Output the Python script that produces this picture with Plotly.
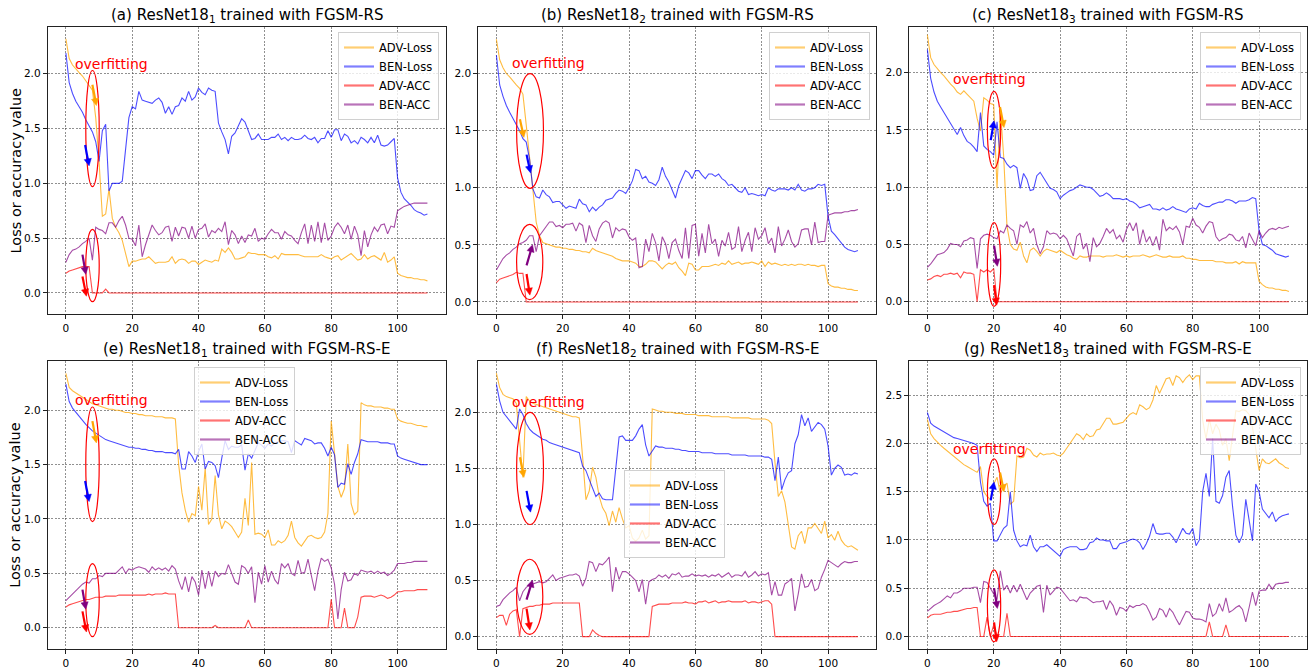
import math
import plotly.graph_objects as go

epochs = list(range(110))
series_names = ["ADV-Loss", "BEN-Loss", "ADV-ACC", "BEN-ACC"]

# ---------------- (a) ResNet18_1, FGSM-RS ----------------
A_adv_loss = [2.32, 2.14, 2.08, 2.04, 2.01, 1.98, 1.94, 1.90, 1.85, 1.60,
              1.20, 0.70, 0.72, 0.95, 0.68, 0.60, 0.55, 0.48, 0.35, 0.24,
              0.29, 0.29, 0.30, 0.31, 0.31, 0.33, 0.30, 0.27, 0.28, 0.28,
              0.28, 0.29, 0.33, 0.27, 0.30, 0.31, 0.30, 0.27, 0.29, 0.29,
              0.26, 0.28, 0.30, 0.29, 0.28, 0.30, 0.29, 0.40, 0.37, 0.41,
              0.37, 0.31, 0.31, 0.32, 0.33, 0.37, 0.36, 0.36, 0.35, 0.35,
              0.35, 0.33, 0.32, 0.34, 0.31, 0.36, 0.35, 0.35, 0.35, 0.35,
              0.35, 0.34, 0.33, 0.33, 0.33, 0.33, 0.33, 0.35, 0.33, 0.32,
              0.31, 0.33, 0.34, 0.30, 0.32, 0.34, 0.36, 0.33, 0.30, 0.31,
              0.35, 0.31, 0.33, 0.34, 0.32, 0.30, 0.37, 0.28, 0.30, 0.33,
              0.18, 0.16, 0.15, 0.14, 0.14, 0.13, 0.13, 0.12, 0.12, 0.11]
A_ben_loss = [2.19, 1.92, 1.82, 1.75, 1.70, 1.65, 1.58, 1.53, 1.47, 1.38,
              1.20, 1.48, 1.54, 0.93, 1.00, 1.00, 1.00, 1.02, 1.30, 1.60,
              1.70, 1.68, 1.84, 1.76, 1.75, 1.74, 1.73, 1.76, 1.78, 1.74,
              1.64, 1.70, 1.63, 1.70, 1.71, 1.78, 1.75, 1.84, 1.76, 1.79,
              1.87, 1.83, 1.81, 1.87, 1.85, 1.84, 1.55, 1.47, 1.40, 1.27,
              1.43, 1.46, 1.52, 1.59, 1.56, 1.48, 1.40, 1.41, 1.45, 1.40,
              1.40, 1.40, 1.42, 1.42, 1.45, 1.40, 1.42, 1.39, 1.42, 1.40,
              1.40, 1.41, 1.44, 1.41, 1.40, 1.42, 1.37, 1.41, 1.41, 1.48,
              1.42, 1.49, 1.49, 1.39, 1.45, 1.43, 1.37, 1.39, 1.36, 1.42,
              1.40, 1.37, 1.42, 1.37, 1.44, 1.35, 1.34, 1.35, 1.38, 1.41,
              1.05, 0.92, 0.86, 0.83, 0.80, 0.76, 0.74, 0.73, 0.71, 0.72]
A_adv_acc = [0.18, 0.20, 0.21, 0.22, 0.23, 0.24, 0.24, 0.24, 0.00, 0.00,
             0.00, 0.00, 0.035, 0.00, 0.00, 0.00, 0.00, 0.00, 0.00, 0.00,
             0.00, 0.00, 0.00, 0.00, 0.00, 0.00, 0.00, 0.00, 0.00, 0.00,
             0.00, 0.00, 0.00, 0.00, 0.00, 0.00, 0.00, 0.00, 0.00, 0.00,
             0.00, 0.00, 0.00, 0.00, 0.00, 0.00, 0.00, 0.00, 0.00, 0.00,
             0.00, 0.00, 0.00, 0.00, 0.00, 0.00, 0.00, 0.00, 0.00, 0.00,
             0.00, 0.00, 0.00, 0.00, 0.00, 0.00, 0.00, 0.00, 0.00, 0.00,
             0.00, 0.00, 0.00, 0.00, 0.00, 0.00, 0.00, 0.00, 0.00, 0.00,
             0.00, 0.00, 0.00, 0.00, 0.00, 0.00, 0.00, 0.00, 0.00, 0.00,
             0.00, 0.00, 0.00, 0.00, 0.00, 0.00, 0.00, 0.00, 0.00, 0.00,
             0.00, 0.00, 0.00, 0.00, 0.00, 0.00, 0.00, 0.00, 0.00, 0.00]
A_ben_acc = [0.28, 0.35, 0.39, 0.40, 0.42, 0.45, 0.47, 0.50, 0.30, 0.60,
             0.58, 0.57, 0.54, 0.64, 0.64, 0.60, 0.66, 0.70, 0.62, 0.50,
             0.49, 0.43, 0.62, 0.33, 0.44, 0.53, 0.62, 0.57, 0.53, 0.55,
             0.60, 0.61, 0.47, 0.60, 0.52, 0.60, 0.59, 0.50, 0.61, 0.50,
             0.58, 0.59, 0.63, 0.51, 0.57, 0.55, 0.59, 0.56, 0.65, 0.44,
             0.57, 0.53, 0.45, 0.52, 0.46, 0.53, 0.52, 0.59, 0.47, 0.50,
             0.49, 0.54, 0.58, 0.55, 0.55, 0.49, 0.56, 0.53, 0.52, 0.48,
             0.45, 0.55, 0.63, 0.45, 0.62, 0.47, 0.65, 0.46, 0.64, 0.48,
             0.52, 0.60, 0.64, 0.60, 0.54, 0.62, 0.49, 0.61, 0.53, 0.34,
             0.57, 0.42, 0.53, 0.60, 0.56, 0.62, 0.63, 0.54, 0.61, 0.60,
             0.75, 0.77, 0.79, 0.80, 0.81, 0.82, 0.82, 0.82, 0.82, 0.82]

# ---------------- (b) ResNet18_2, FGSM-RS ----------------
B_adv_loss = [2.30, 2.12, 2.05, 2.00, 1.97, 1.93, 1.90, 1.87, 1.82, 1.55,
              1.25, 0.95, 0.70, 0.58, 0.52, 0.51, 0.50, 0.49, 0.48, 0.48,
              0.47, 0.47, 0.46, 0.46, 0.45, 0.45, 0.44, 0.44, 0.43, 0.47,
              0.45, 0.44, 0.43, 0.42, 0.41, 0.40, 0.38, 0.37, 0.36, 0.36,
              0.36, 0.35, 0.34, 0.31, 0.31, 0.33, 0.36, 0.36, 0.35, 0.32,
              0.29, 0.32, 0.34, 0.33, 0.35, 0.30, 0.27, 0.23, 0.34, 0.33,
              0.28, 0.28, 0.31, 0.31, 0.31, 0.32, 0.33, 0.32, 0.34, 0.33,
              0.36, 0.33, 0.34, 0.35, 0.33, 0.34, 0.34, 0.35, 0.34, 0.33,
              0.36, 0.31, 0.35, 0.33, 0.34, 0.33, 0.32, 0.33, 0.32, 0.33,
              0.32, 0.33, 0.33, 0.32, 0.33, 0.32, 0.32, 0.31, 0.32, 0.32,
              0.16, 0.14, 0.13, 0.13, 0.12, 0.12, 0.11, 0.11, 0.10, 0.10]
B_ben_loss = [2.16, 1.90, 1.80, 1.72, 1.66, 1.61, 1.55, 1.50, 1.43, 1.40,
              1.25, 0.99, 0.92, 0.91, 0.98, 0.94, 0.92, 0.87, 0.88, 0.88,
              0.85, 0.82, 0.84, 0.83, 0.82, 0.90, 0.86, 0.85, 0.79, 0.83,
              0.80, 0.83, 0.85, 0.89, 0.90, 0.91, 0.95, 0.98, 0.97, 0.95,
              1.00, 1.06, 1.16, 1.15, 1.08, 1.10, 1.05, 1.04, 1.02, 1.07,
              1.18, 1.10, 1.05, 0.98, 0.91, 1.02, 1.08, 1.15, 1.13, 1.08,
              1.15, 1.15, 1.11, 1.08, 1.12, 1.12, 1.10, 1.12, 1.08, 1.06,
              1.02, 1.03, 1.00, 0.97, 0.96, 1.00, 0.94, 0.95, 0.94, 0.93,
              0.94, 0.93, 1.00, 0.98, 0.97, 0.99, 0.99, 0.99, 0.98, 1.00,
              0.98, 1.03, 0.98, 0.97, 0.99, 0.99, 1.00, 1.03, 1.02, 1.03,
              0.75, 0.62, 0.59, 0.55, 0.51, 0.48, 0.46, 0.45, 0.44, 0.45]
B_adv_acc = [0.17, 0.20, 0.21, 0.22, 0.23, 0.24, 0.26, 0.25, 0.25, 0.00,
             0.00, 0.00, 0.00, 0.00, 0.00, 0.00, 0.00, 0.00, 0.00, 0.00,
             0.00, 0.00, 0.00, 0.00, 0.00, 0.00, 0.00, 0.00, 0.00, 0.00,
             0.00, 0.00, 0.00, 0.00, 0.00, 0.00, 0.00, 0.00, 0.00, 0.00,
             0.00, 0.00, 0.00, 0.00, 0.00, 0.00, 0.00, 0.00, 0.00, 0.00,
             0.00, 0.00, 0.00, 0.00, 0.00, 0.00, 0.00, 0.00, 0.00, 0.00,
             0.00, 0.00, 0.00, 0.00, 0.00, 0.00, 0.00, 0.00, 0.00, 0.00,
             0.00, 0.00, 0.00, 0.00, 0.00, 0.00, 0.00, 0.00, 0.00, 0.00,
             0.00, 0.00, 0.00, 0.00, 0.00, 0.00, 0.00, 0.00, 0.00, 0.00,
             0.00, 0.00, 0.00, 0.00, 0.00, 0.00, 0.00, 0.00, 0.00, 0.00,
             0.00, 0.00, 0.00, 0.00, 0.00, 0.00, 0.00, 0.00, 0.00, 0.00]
B_ben_acc = [0.28, 0.33, 0.38, 0.41, 0.43, 0.46, 0.48, 0.51, 0.52, 0.54,
             0.58, 0.58, 0.44, 0.58, 0.62, 0.65, 0.70, 0.70, 0.66, 0.67,
             0.65, 0.68, 0.68, 0.69, 0.62, 0.69, 0.67, 0.52, 0.67, 0.58,
             0.53, 0.64, 0.69, 0.71, 0.69, 0.56, 0.65, 0.62, 0.64, 0.63,
             0.57, 0.54, 0.56, 0.30, 0.31, 0.55, 0.44, 0.60, 0.52, 0.36,
             0.57, 0.51, 0.38, 0.52, 0.55, 0.45, 0.38, 0.65, 0.38, 0.67,
             0.68, 0.40, 0.60, 0.43, 0.68, 0.51, 0.55, 0.40, 0.54, 0.49,
             0.61, 0.46, 0.48, 0.66, 0.44, 0.54, 0.61, 0.44, 0.65, 0.55,
             0.58, 0.65, 0.51, 0.56, 0.43, 0.66, 0.49, 0.55, 0.63, 0.53,
             0.48, 0.51, 0.63, 0.64, 0.64, 0.50, 0.70, 0.52, 0.53, 0.53,
             0.76, 0.77, 0.78, 0.78, 0.78, 0.79, 0.79, 0.80, 0.80, 0.81]

# ---------------- (c) ResNet18_3, FGSM-RS ----------------
C_adv_loss = [2.33, 2.13, 2.07, 2.03, 2.00, 1.97, 1.93, 1.90, 1.87, 1.83,
              1.81, 1.84, 1.81, 1.78, 1.75, 1.60, 1.49, 1.78, 1.76, 1.73,
              1.72, 0.99, 1.68, 1.27, 0.66, 0.50, 0.46, 0.45, 0.52, 0.40,
              0.34, 0.45, 0.47, 0.44, 0.40, 0.44, 0.46, 0.45, 0.44, 0.43,
              0.45, 0.43, 0.41, 0.40, 0.38, 0.37, 0.40, 0.39, 0.39, 0.40,
              0.40, 0.40, 0.40, 0.39, 0.40, 0.40, 0.40, 0.41, 0.40, 0.39,
              0.40, 0.39, 0.40, 0.40, 0.40, 0.41, 0.40, 0.39, 0.40, 0.41,
              0.40, 0.39, 0.39, 0.40, 0.39, 0.39, 0.39, 0.40, 0.38, 0.38,
              0.37, 0.37, 0.36, 0.36, 0.36, 0.36, 0.36, 0.35, 0.35, 0.35,
              0.34, 0.34, 0.34, 0.35, 0.33, 0.35, 0.34, 0.34, 0.34, 0.34,
              0.18, 0.15, 0.13, 0.12, 0.12, 0.11, 0.11, 0.10, 0.10, 0.09]
C_ben_loss = [2.20, 1.95, 1.83, 1.75, 1.70, 1.65, 1.60, 1.55, 1.50, 1.46,
              1.52, 1.45, 1.40, 1.38, 1.35, 1.31, 1.65, 1.36, 1.33, 1.31,
              1.28, 1.57, 1.26, 1.25, 1.20, 1.17, 1.19, 1.17, 0.99, 1.12,
              1.07, 0.97, 0.98, 1.10, 1.13, 1.08, 1.03, 0.99, 0.98, 0.96,
              0.90, 0.93, 0.95, 0.97, 0.98, 1.00, 1.02, 1.01, 1.00, 1.00,
              0.98, 0.95, 0.92, 0.93, 0.95, 0.93, 0.90, 0.90, 0.90, 0.89,
              0.90, 0.88, 0.87, 0.85, 0.82, 0.83, 0.84, 0.85, 0.81, 0.81,
              0.80, 0.82, 0.80, 0.81, 0.83, 0.81, 0.80, 0.79, 0.78, 0.81,
              0.82, 0.81, 0.86, 0.84, 0.83, 0.83, 0.85, 0.86, 0.87, 0.87,
              0.89, 0.89, 0.88, 0.86, 0.88, 0.88, 0.88, 0.89, 0.91, 0.90,
              0.62, 0.50, 0.49, 0.47, 0.45, 0.42, 0.41, 0.40, 0.39, 0.40]
C_adv_acc = [0.19, 0.20, 0.22, 0.23, 0.22, 0.24, 0.24, 0.25, 0.24, 0.25,
             0.21, 0.26, 0.25, 0.25, 0.24, 0.00, 0.28, 0.26, 0.28, 0.26,
             0.29, 0.00, 0.00, 0.00, 0.00, 0.00, 0.00, 0.00, 0.00, 0.00,
             0.00, 0.00, 0.00, 0.00, 0.00, 0.00, 0.00, 0.00, 0.00, 0.00,
             0.00, 0.00, 0.00, 0.00, 0.00, 0.00, 0.00, 0.00, 0.00, 0.00,
             0.00, 0.00, 0.00, 0.00, 0.00, 0.00, 0.00, 0.00, 0.00, 0.00,
             0.00, 0.00, 0.00, 0.00, 0.00, 0.00, 0.00, 0.00, 0.00, 0.00,
             0.00, 0.00, 0.00, 0.00, 0.00, 0.00, 0.00, 0.00, 0.00, 0.00,
             0.00, 0.00, 0.00, 0.00, 0.00, 0.00, 0.00, 0.00, 0.00, 0.00,
             0.00, 0.00, 0.00, 0.00, 0.00, 0.00, 0.00, 0.00, 0.00, 0.00,
             0.00, 0.00, 0.00, 0.00, 0.00, 0.00, 0.00, 0.00, 0.00, 0.00]
C_ben_acc = [0.30, 0.33, 0.37, 0.41, 0.42, 0.43, 0.46, 0.51, 0.50, 0.50,
             0.48, 0.53, 0.54, 0.56, 0.55, 0.29, 0.55, 0.58, 0.59, 0.58,
             0.56, 0.55, 0.62, 0.60, 0.67, 0.64, 0.62, 0.50, 0.67, 0.65,
             0.70, 0.60, 0.64, 0.50, 0.42, 0.48, 0.62, 0.59, 0.60, 0.59,
             0.55, 0.58, 0.55, 0.47, 0.40, 0.57, 0.60, 0.46, 0.51, 0.35,
             0.56, 0.48, 0.51, 0.57, 0.64, 0.60, 0.63, 0.55, 0.58, 0.52,
             0.63, 0.69, 0.62, 0.69, 0.50, 0.63, 0.52, 0.57, 0.49, 0.57,
             0.45, 0.72, 0.62, 0.65, 0.63, 0.66, 0.61, 0.50, 0.66, 0.65,
             0.73, 0.67, 0.65, 0.60, 0.66, 0.70, 0.69, 0.57, 0.53, 0.55,
             0.56, 0.59, 0.58, 0.54, 0.53, 0.57, 0.47, 0.60, 0.55, 0.49,
             0.62, 0.56, 0.60, 0.63, 0.64, 0.63, 0.65, 0.64, 0.65, 0.66]

# ---------------- (e) ResNet18_1, FGSM-RS-E ----------------
E_adv_loss = [2.34, 2.21, 2.18, 2.16, 2.14, 2.12, 2.10, 2.08, 2.06, 2.05,
              2.04, 2.03, 2.02, 2.01, 2.01, 2.00, 2.00, 1.99, 1.98, 1.98,
              1.97, 1.97, 1.96, 1.96, 1.95, 1.95, 1.95, 1.94, 1.94, 1.94,
              1.93, 1.93, 1.93, 1.92, 1.50, 1.24, 1.08, 0.97, 1.05, 1.03,
              1.30, 1.08, 1.47, 0.95, 1.00, 1.40, 1.04, 0.91, 0.98, 0.96,
              0.93, 0.88, 0.83, 0.88, 1.19, 0.94, 1.52, 0.86, 0.87, 0.86,
              0.83, 0.90, 0.76, 0.76, 0.80, 0.78, 0.80, 0.85, 0.98, 0.83,
              0.78, 0.75, 0.80, 0.84, 0.85, 0.83, 0.82, 0.83, 0.88, 1.05,
              1.90, 1.60, 1.30, 1.20, 1.28, 1.69, 1.14, 1.04, 1.07, 2.07,
              2.05, 2.04, 2.04, 2.03, 2.03, 2.03, 2.02, 2.02, 2.01, 2.01,
              1.92, 1.90, 1.89, 1.88, 1.88, 1.87, 1.86, 1.86, 1.85, 1.85]
E_ben_loss = [2.24, 2.08, 2.02, 1.98, 1.94, 1.90, 1.87, 1.84, 1.81, 1.79,
              1.77, 1.75, 1.73, 1.72, 1.71, 1.70, 1.69, 1.68, 1.67, 1.66,
              1.66, 1.65, 1.65, 1.64, 1.64, 1.63, 1.63, 1.62, 1.62, 1.62,
              1.61, 1.61, 1.61, 1.60, 1.64, 1.46, 1.46, 1.62, 1.58, 1.52,
              1.62, 1.69, 1.46, 1.53, 1.52, 1.49, 1.38, 1.56, 1.72, 1.64,
              1.67, 1.66, 1.66, 1.68, 1.45, 1.60, 1.56, 1.63, 1.70, 1.68,
              1.65, 1.69, 1.67, 1.70, 1.71, 1.72, 1.72, 1.71, 1.61, 1.72,
              1.70, 1.68, 1.74, 1.73, 1.72, 1.69, 1.70, 1.70, 1.65, 1.58,
              1.66, 1.59, 1.29, 1.33, 1.32, 1.51, 1.41, 1.52, 1.60, 1.73,
              1.72, 1.71, 1.71, 1.71, 1.71, 1.70, 1.70, 1.70, 1.69, 1.69,
              1.58, 1.56, 1.55, 1.54, 1.53, 1.52, 1.51, 1.50, 1.50, 1.50]
E_adv_acc = [0.19, 0.21, 0.22, 0.23, 0.24, 0.25, 0.26, 0.26, 0.27, 0.28,
             0.28, 0.28, 0.29, 0.29, 0.29, 0.29, 0.30, 0.30, 0.30, 0.30,
             0.30, 0.30, 0.30, 0.30, 0.30, 0.31, 0.30, 0.31, 0.31, 0.31,
             0.32, 0.31, 0.31, 0.31, 0.00, 0.00, 0.00, 0.00, 0.00, 0.00,
             0.00, 0.00, 0.00, 0.00, 0.00, 0.02, 0.00, 0.00, 0.00, 0.00,
             0.00, 0.00, 0.00, 0.00, 0.00, 0.07, 0.00, 0.00, 0.00, 0.00,
             0.00, 0.00, 0.00, 0.00, 0.00, 0.00, 0.00, 0.00, 0.00, 0.00,
             0.00, 0.00, 0.00, 0.00, 0.00, 0.00, 0.00, 0.00, 0.00, 0.00,
             0.26, 0.00, 0.00, 0.00, 0.18, 0.00, 0.00, 0.00, 0.10, 0.28,
             0.29, 0.29, 0.29, 0.28, 0.29, 0.30, 0.29, 0.27, 0.28, 0.30,
             0.33, 0.33, 0.34, 0.34, 0.34, 0.34, 0.35, 0.35, 0.35, 0.35]
E_ben_acc = [0.25, 0.28, 0.31, 0.34, 0.37, 0.40, 0.42, 0.41, 0.45, 0.45,
             0.48, 0.47, 0.50, 0.50, 0.50, 0.50, 0.53, 0.56, 0.50, 0.54,
             0.53, 0.55, 0.56, 0.55, 0.54, 0.51, 0.56, 0.53, 0.55, 0.53,
             0.55, 0.52, 0.57, 0.54, 0.43, 0.35, 0.47, 0.33, 0.47, 0.42,
             0.30, 0.53, 0.36, 0.52, 0.38, 0.52, 0.47, 0.50, 0.49, 0.58,
             0.50, 0.42, 0.40, 0.57, 0.55, 0.50, 0.56, 0.23, 0.51, 0.40,
             0.57, 0.42, 0.52, 0.44, 0.40, 0.59, 0.55, 0.59, 0.50, 0.48,
             0.62, 0.50, 0.51, 0.63, 0.48, 0.34, 0.52, 0.64, 0.61, 0.63,
             0.55, 0.40, 0.08, 0.35, 0.51, 0.43, 0.44, 0.50, 0.48, 0.53,
             0.52, 0.51, 0.52, 0.50, 0.52, 0.50, 0.51, 0.48, 0.50, 0.53,
             0.59, 0.59, 0.59, 0.60, 0.60, 0.61, 0.61, 0.61, 0.61, 0.61]

# ---------------- (f) ResNet18_2, FGSM-RS-E ----------------
F_adv_loss = [2.35, 2.22, 2.16, 2.14, 2.13, 2.12, 2.08, 1.75, 1.42, 2.14,
              2.10, 2.08, 2.07, 2.06, 2.05, 2.04, 2.03, 2.02, 2.01, 2.00,
              1.99, 1.98, 1.97, 1.96, 1.96, 1.95, 1.60, 1.22, 1.30, 1.51,
              1.42, 1.25, 1.15, 1.10, 0.99, 1.12, 1.02, 1.15, 1.05, 0.97,
              0.99, 0.88, 0.85, 0.88, 0.95, 0.87, 0.90, 2.03, 2.02, 2.01,
              2.01, 2.00, 2.00, 2.00, 1.99, 1.99, 1.99, 1.98, 1.98, 1.98,
              1.98, 1.97, 1.97, 1.97, 1.97, 1.96, 1.96, 1.96, 1.96, 1.96,
              1.96, 1.95, 1.95, 1.95, 1.95, 1.95, 1.95, 1.94, 1.94, 1.94,
              1.94, 1.94, 1.93, 1.90, 1.55, 1.25, 1.30, 1.20, 1.00, 0.80,
              0.78, 0.90, 0.94, 0.83, 0.97, 0.97, 1.01, 0.97, 0.92, 1.03,
              0.88, 0.91, 0.86, 0.94, 0.86, 0.82, 0.80, 0.81, 0.79, 0.77]
F_ben_loss = [2.25, 2.10, 2.00, 1.96, 1.93, 1.89, 1.85, 2.03, 1.98, 1.90,
              1.85, 1.82, 1.80, 1.78, 1.76, 1.75, 1.73, 1.72, 1.71, 1.70,
              1.69, 1.68, 1.67, 1.66, 1.65, 1.64, 1.52, 1.48, 1.40, 1.32,
              1.25, 1.28, 1.23, 1.22, 1.22, 1.22, 1.50, 1.78, 1.79, 1.75,
              1.75, 1.75, 1.79, 1.85, 1.89, 1.71, 1.61, 1.66, 1.70, 1.69,
              1.69, 1.68, 1.68, 1.68, 1.67, 1.67, 1.66, 1.66, 1.65, 1.65,
              1.65, 1.65, 1.64, 1.64, 1.64, 1.64, 1.63, 1.63, 1.63, 1.63,
              1.63, 1.62, 1.62, 1.62, 1.62, 1.62, 1.61, 1.61, 1.61, 1.61,
              1.61, 1.60, 1.60, 1.58, 1.39, 1.60, 1.31, 1.40, 1.46, 1.48,
              1.72, 1.80, 1.98, 1.88, 1.95, 1.83, 1.87, 1.91, 1.89, 1.85,
              1.70, 1.44, 1.50, 1.53, 1.51, 1.44, 1.45, 1.44, 1.46, 1.45]
F_adv_acc = [0.17, 0.19, 0.19, 0.10, 0.20, 0.23, 0.24, 0.00, 0.25, 0.26,
             0.27, 0.27, 0.28, 0.28, 0.29, 0.29, 0.29, 0.30, 0.30, 0.30,
             0.30, 0.30, 0.30, 0.30, 0.30, 0.30, 0.00, 0.00, 0.00, 0.06,
             0.03, 0.01, 0.00, 0.00, 0.00, 0.00, 0.00, 0.00, 0.00, 0.00,
             0.00, 0.00, 0.00, 0.00, 0.00, 0.00, 0.00, 0.27, 0.28, 0.29,
             0.29, 0.29, 0.29, 0.30, 0.30, 0.30, 0.30, 0.31, 0.30, 0.30,
             0.29, 0.31, 0.31, 0.32, 0.30, 0.31, 0.32, 0.30, 0.31, 0.31,
             0.32, 0.31, 0.31, 0.31, 0.31, 0.32, 0.30, 0.31, 0.31, 0.30,
             0.31, 0.32, 0.32, 0.29, 0.00, 0.00, 0.00, 0.00, 0.00, 0.00,
             0.00, 0.00, 0.00, 0.00, 0.00, 0.00, 0.00, 0.00, 0.00, 0.00,
             0.00, 0.00, 0.00, 0.00, 0.00, 0.00, 0.00, 0.00, 0.00, 0.00]
F_ben_acc = [0.27, 0.28, 0.33, 0.36, 0.39, 0.41, 0.44, 0.32, 0.40, 0.44,
             0.46, 0.47, 0.48, 0.49, 0.48, 0.49, 0.52, 0.55, 0.50, 0.52,
             0.53, 0.54, 0.55, 0.55, 0.56, 0.54, 0.45, 0.52, 0.67, 0.66,
             0.58, 0.65, 0.64, 0.67, 0.71, 0.40, 0.62, 0.51, 0.58, 0.58,
             0.56, 0.53, 0.50, 0.40, 0.51, 0.29, 0.49, 0.51, 0.52, 0.55,
             0.53, 0.55, 0.52, 0.56, 0.55, 0.57, 0.53, 0.54, 0.54, 0.56,
             0.54, 0.55, 0.54, 0.55, 0.53, 0.55, 0.54, 0.56, 0.53, 0.55,
             0.57, 0.53, 0.55, 0.55, 0.54, 0.58, 0.53, 0.55, 0.58, 0.54,
             0.56, 0.55, 0.57, 0.37, 0.49, 0.37, 0.37, 0.47, 0.49, 0.52,
             0.23, 0.38, 0.56, 0.44, 0.45, 0.51, 0.41, 0.43, 0.53, 0.60,
             0.68, 0.66, 0.64, 0.62, 0.65, 0.67, 0.66, 0.66, 0.67, 0.67]

# ---------------- (g) ResNet18_3, FGSM-RS-E ----------------
G_adv_loss = [2.25, 2.10, 2.05, 2.01, 1.98, 1.95, 1.92, 1.89, 1.86, 1.83,
              1.80, 1.78, 1.76, 1.74, 1.72, 1.70, 1.76, 1.50, 1.45, 1.42,
              1.58, 1.65, 1.48, 1.55, 1.59, 1.37, 1.40, 1.87, 1.85, 1.86,
              1.95, 1.93, 1.88, 1.86, 1.90, 1.88, 1.89, 1.89, 1.90, 1.88,
              1.87, 1.90, 1.95, 2.00, 2.05, 2.10, 2.08, 2.04, 2.10, 2.07,
              2.08, 2.14, 2.15, 2.20, 2.26, 2.26, 2.20, 2.20, 2.21, 2.22,
              2.26, 2.30, 2.32, 2.30, 2.40, 2.38, 2.35, 2.37, 2.45, 2.60,
              2.52, 2.60, 2.67, 2.68, 2.60, 2.70, 2.68, 2.63, 2.68, 2.71,
              2.66, 2.70, 2.70, 2.24, 2.05, 2.25, 2.10, 2.20, 2.14, 1.98,
              2.05, 1.82, 2.07, 2.34, 2.33, 2.35, 2.34, 2.30, 2.17, 1.95,
              1.72, 1.84, 1.80, 1.79, 1.82, 1.84, 1.80, 1.78, 1.75, 1.74]
G_ben_loss = [2.32, 2.21, 2.18, 2.16, 2.14, 2.12, 2.10, 2.08, 2.06, 2.05,
              2.04, 2.03, 2.02, 2.01, 2.00, 1.98, 1.60, 1.40, 1.35, 1.38,
              0.99, 0.99, 1.05, 1.12, 1.15, 1.50, 1.10, 0.99, 0.93, 0.95,
              0.94, 1.05, 0.93, 0.88, 0.93, 0.93, 0.95, 0.92, 0.88, 0.86,
              0.83, 0.90, 0.92, 0.93, 0.93, 0.93, 0.90, 0.90, 0.91, 0.97,
              0.98, 1.02, 1.00, 1.00, 0.99, 0.99, 0.91, 0.91, 0.96, 0.97,
              0.98, 1.00, 1.01, 1.00, 0.97, 0.90, 0.96, 1.04, 1.17, 1.07,
              1.06, 1.06, 1.07, 1.07, 1.03, 0.97, 1.04, 1.12, 1.07, 1.06,
              1.12, 0.94, 1.00, 1.50, 1.69, 1.45, 2.05, 1.40, 1.38, 1.46,
              1.65, 1.72, 1.35, 1.05, 0.97, 1.05, 1.42, 1.20, 0.99, 1.58,
              1.50, 1.32, 1.28, 1.23, 1.29, 1.19, 1.23, 1.25, 1.26, 1.27]
G_adv_acc = [0.19, 0.22, 0.23, 0.23, 0.23, 0.24, 0.25, 0.25, 0.26, 0.26,
             0.27, 0.28, 0.29, 0.29, 0.30, 0.30, 0.00, 0.00, 0.20, 0.00,
             0.12, 0.00, 0.00, 0.00, 0.24, 0.00, 0.00, 0.00, 0.00, 0.00,
             0.00, 0.00, 0.00, 0.00, 0.00, 0.00, 0.00, 0.00, 0.00, 0.00,
             0.00, 0.00, 0.00, 0.00, 0.00, 0.00, 0.00, 0.00, 0.00, 0.00,
             0.00, 0.00, 0.00, 0.00, 0.00, 0.00, 0.00, 0.00, 0.00, 0.00,
             0.00, 0.00, 0.00, 0.00, 0.00, 0.00, 0.00, 0.00, 0.00, 0.00,
             0.00, 0.00, 0.00, 0.00, 0.00, 0.00, 0.00, 0.00, 0.00, 0.00,
             0.00, 0.00, 0.00, 0.00, 0.00, 0.15, 0.00, 0.00, 0.00, 0.00,
             0.12, 0.00, 0.00, 0.00, 0.00, 0.00, 0.00, 0.00, 0.00, 0.00,
             0.00, 0.00, 0.00, 0.00, 0.00, 0.00, 0.00, 0.00, 0.00, 0.00]
G_ben_acc = [0.26, 0.29, 0.32, 0.34, 0.36, 0.39, 0.42, 0.40, 0.45, 0.45,
             0.47, 0.50, 0.50, 0.50, 0.51, 0.51, 0.35, 0.57, 0.56, 0.50,
             0.45, 0.38, 0.68, 0.48, 0.53, 0.45, 0.53, 0.46, 0.54, 0.45,
             0.38, 0.45, 0.49, 0.52, 0.53, 0.25, 0.53, 0.43, 0.47, 0.51,
             0.50, 0.46, 0.42, 0.37, 0.38, 0.36, 0.41, 0.40, 0.40, 0.37,
             0.35, 0.36, 0.36, 0.37, 0.28, 0.37, 0.32, 0.22, 0.30, 0.29,
             0.26, 0.32, 0.30, 0.32, 0.32, 0.34, 0.32, 0.25, 0.17, 0.20,
             0.29, 0.27, 0.20, 0.29, 0.25, 0.18, 0.12, 0.19, 0.26, 0.25,
             0.19, 0.18, 0.18, 0.17, 0.15, 0.34, 0.21, 0.24, 0.34, 0.26,
             0.40, 0.25, 0.27, 0.30, 0.32, 0.28, 0.15, 0.30, 0.46, 0.32,
             0.47, 0.48, 0.48, 0.54, 0.49, 0.54, 0.55, 0.55, 0.56, 0.56]

titles = ["(a) ResNet18<sub>1</sub> trained with FGSM-RS",
          "(b) ResNet18<sub>2</sub> trained with FGSM-RS",
          "(c) ResNet18<sub>3</sub> trained with FGSM-RS",
          "(e) ResNet18<sub>1</sub> trained with FGSM-RS-E",
          "(f) ResNet18<sub>2</sub> trained with FGSM-RS-E",
          "(g) ResNet18<sub>3</sub> trained with FGSM-RS-E"]
panel_series = [(A_adv_loss, A_ben_loss, A_adv_acc, A_ben_acc),
                (B_adv_loss, B_ben_loss, B_adv_acc, B_ben_acc),
                (C_adv_loss, C_ben_loss, C_adv_acc, C_ben_acc),
                (E_adv_loss, E_ben_loss, E_adv_acc, E_ben_acc),
                (F_adv_loss, F_ben_loss, F_adv_acc, F_ben_acc),
                (G_adv_loss, G_ben_loss, G_adv_acc, G_ben_acc)]
for ps in panel_series:
    for s in ps:
        assert len(s) == 110, len(s)

# ---------------- layout / style ----------------
W, H = 1310, 669
FONT = "DejaVu Sans"
line_colors = ["rgba(255,165,0,0.75)", "rgba(0,0,255,0.7)",
               "rgba(255,0,0,0.7)", "rgba(128,0,128,0.7)"]
legend_colors = ["rgba(255,165,0,0.55)", "rgba(0,0,255,0.5)",
                 "rgba(255,0,0,0.55)", "rgba(128,0,128,0.55)"]

X_RANGE = (-5.45, 114.45)
col_px = [(47.8, 445.5), (478.3, 876.0), (909.3, 1307.0)]
row_px = [(26.7, 314.3), (360.7, 649.0)]
y_ranges = [(-0.195, 2.43), (-0.108, 2.41), (-0.109, 2.40),
            (-0.196, 2.456), (-0.11, 2.46), (-0.13, 2.857)]
y_ticks = [[0, 0.5, 1.0, 1.5, 2.0]] * 5 + [[0, 0.5, 1.0, 1.5, 2.0, 2.5]]
# legend (right px, top px)
legend_pos = [(439, 32), (870, 32), (1301, 32), (295, 367), (725, 470), (1301, 367)]

# annotation configs: text pos, ellipses, arrows (tail -> head)
ann_cfg = [
    dict(text=(13.7, 2.09), ell=[(6.0, 10.05, 0.97, 2.03), (6.0, 10.05, -0.08, 0.58)],
         arrows=[((8.0, 1.90), (9.2, 1.71), "#FFA500"), ((5.8, 1.35), (7.0, 1.16), "#0000FF"),
                 ((5.0, 0.35), (6.0, 0.17), "#800080"), ((5.0, 0.15), (6.2, -0.03), "#FF0000")]),
    dict(text=(15.8, 2.09), ell=[(6.1, 14.2, 0.995, 2.0), (6.1, 14.0, 0.02, 0.68)],
         arrows=[((7.1, 1.60), (8.3, 1.44), "#FFA500"), ((9.1, 1.29), (10.3, 1.13), "#0000FF"),
                 ((9.1, 0.32), (10.9, 0.50), "#800080"), ((9.1, 0.245), (10.1, 0.06), "#FF0000")]),
    dict(text=(18.6, 1.94), ell=[(18.1, 22.1, 1.164, 1.835), (18.1, 22.1, -0.04, 0.69)],
         arrows=[((21.9, 1.70), (23.1, 1.52), "#FFA500"), ((19.1, 1.41), (20.1, 1.58), "#0000FF"),
                 ((20.1, 0.49), (21.1, 0.31), "#800080"), ((20.1, 0.145), (20.9, -0.03), "#FF0000")]),
    dict(text=(13.7, 2.09), ell=[(6.0, 10.05, 0.975, 2.03), (6.0, 10.05, -0.083, 0.59)],
         arrows=[((8.0, 1.90), (9.2, 1.70), "#FFA500"), ((5.8, 1.35), (7.0, 1.16), "#0000FF"),
                 ((5.0, 0.35), (6.0, 0.17), "#800080"), ((5.0, 0.15), (6.2, -0.04), "#FF0000")]),
    dict(text=(15.8, 2.09), ell=[(6.1, 14.2, 1.0, 2.0), (6.1, 14.0, 0.02, 0.69)],
         arrows=[((7.1, 1.60), (8.3, 1.42), "#FFA500"), ((9.1, 1.30), (10.3, 1.11), "#0000FF"),
                 ((9.1, 0.33), (10.9, 0.505), "#800080"), ((9.1, 0.25), (10.1, 0.06), "#FF0000")]),
    dict(text=(18.6, 1.945), ell=[(18.1, 22.1, 1.16, 1.84), (18.1, 22.1, -0.055, 0.69)],
         arrows=[((21.9, 1.70), (23.1, 1.50), "#FFA500"), ((19.1, 1.41), (20.1, 1.60), "#0000FF"),
                 ((20.1, 0.50), (21.1, 0.29), "#800080"), ((20.1, 0.145), (20.9, -0.055), "#FF0000")]),
]


def arrow_shapes(tail, head, colr, xref, yref, sx, sy):
    """Shaft line + filled triangular head, built in pixel space then mapped to data."""
    dxp = (head[0] - tail[0]) * sx
    dyp = (head[1] - tail[1]) * sy
    L = math.hypot(dxp, dyp)
    ux, uy = dxp / L, dyp / L
    nx, ny = -uy, ux
    hl, hw = 7.0, 3.6
    bx, by = -ux * hl, -uy * hl
    p_base = (head[0] + bx / sx, head[1] + by / sy)
    p1 = (p_base[0] + nx * hw / sx, p_base[1] + ny * hw / sy)
    p2 = (p_base[0] - nx * hw / sx, p_base[1] - ny * hw / sy)
    shaft_end = (head[0] - ux * hl * 0.6 / sx, head[1] - uy * hl * 0.6 / sy)
    return [
        dict(type="line", xref=xref, yref=yref, x0=tail[0], y0=tail[1],
             x1=shaft_end[0], y1=shaft_end[1], line=dict(color=colr, width=2.2), layer="above"),
        dict(type="path", xref=xref, yref=yref,
             path=f"M {head[0]},{head[1]} L {p1[0]},{p1[1]} L {p2[0]},{p2[1]} Z",
             fillcolor=colr, line=dict(color=colr, width=0.5), layer="above"),
    ]


fig = go.Figure()
layout = dict(width=W, height=H, margin=dict(l=0, r=0, t=0, b=0),
              paper_bgcolor="white", plot_bgcolor="white",
              font=dict(family=FONT, size=11, color="black"),
              showlegend=True)
annotations = []
shapes = []

for i in range(6):
    r, c = divmod(i, 3)
    n = i + 1
    xa = "xaxis" if n == 1 else f"xaxis{n}"
    ya = "yaxis" if n == 1 else f"yaxis{n}"
    xref = "x" if n == 1 else f"x{n}"
    yref = "y" if n == 1 else f"y{n}"
    lg = "legend" if n == 1 else f"legend{n}"
    x0p, x1p = col_px[c]
    y0p, y1p = row_px[r]
    common = dict(showline=True, mirror=True, linecolor="#222", linewidth=1.2,
                  ticks="outside", ticklen=4, tickwidth=1, tickcolor="#222",
                  showgrid=True, gridcolor="rgba(70,70,70,0.6)", griddash="2px,1.5px", gridwidth=1,
                  zeroline=False, tickfont=dict(family=FONT, size=10.5, color="black"))
    layout[xa] = dict(domain=[x0p / W, x1p / W], anchor=yref, range=list(X_RANGE),
                      tickvals=[0, 20, 40, 60, 80, 100], **common)
    layout[ya] = dict(domain=[1 - y1p / H, 1 - y0p / H], anchor=xref, range=list(y_ranges[i]),
                      tickvals=y_ticks[i], tickformat=".1f", **common)
    lx, ly = legend_pos[i]
    layout[lg] = dict(x=lx / W, y=1 - ly / H, xanchor="right", yanchor="top",
                      xref="paper", yref="paper",
                      bgcolor="rgba(255,255,255,0.8)", bordercolor="#d0d0d0", borderwidth=1,
                      font=dict(family=FONT, size=11.5, color="black"),
                      tracegroupgap=0, itemwidth=30)
    for s, name, col in zip(panel_series[i], series_names, line_colors):
        fig.add_trace(go.Scatter(x=epochs, y=s, mode="lines", name=name,
                                 line=dict(color=col, width=1.1), showlegend=False,
                                 xaxis=xref, yaxis=yref))
    # legend proxies (thicker key lines, as in the reference legend)
    for name, col in zip(series_names, legend_colors):
        fig.add_trace(go.Scatter(x=[None], y=[None], mode="lines", name=name,
                                 line=dict(color=col, width=2.2), hoverinfo="skip",
                                 xaxis=xref, yaxis=yref, legend=lg))
    # title
    annotations.append(dict(text=titles[i], x=(x0p + x1p) / 2 / W, y=1 - (y0p - 11.5) / H,
                            xref="paper", yref="paper", showarrow=False,
                            xanchor="center", yanchor="middle",
                            font=dict(family=FONT, size=15, color="black")))
    cfg = ann_cfg[i]
    annotations.append(dict(text="overfitting", x=cfg["text"][0], y=cfg["text"][1],
                            xref=xref, yref=yref, showarrow=False,
                            xanchor="center", yanchor="middle",
                            font=dict(family=FONT, size=14, color="red")))
    for (ex0, ex1, ey0, ey1) in cfg["ell"]:
        shapes.append(dict(type="circle", xref=xref, yref=yref, x0=ex0, x1=ex1, y0=ey0, y1=ey1,
                           line=dict(color="red", width=1.2), layer="above"))
    sx = (x1p - x0p) / (X_RANGE[1] - X_RANGE[0])
    sy = (y1p - y0p) / (y_ranges[i][1] - y_ranges[i][0])
    for (tail, head, colr) in cfg["arrows"]:
        shapes.extend(arrow_shapes(tail, head, colr, xref, yref, sx, sy))

for r in range(2):
    y0p, y1p = row_px[r]
    annotations.append(dict(text="Loss or accuracy value", x=15 / W, y=1 - (y0p + y1p) / 2 / H,
                            xref="paper", yref="paper", showarrow=False, textangle=-90,
                            xanchor="center", yanchor="middle",
                            font=dict(family=FONT, size=14.5, color="black")))

layout["annotations"] = annotations
layout["shapes"] = shapes
fig.update_layout(**layout)
fig.write_html("out.html", config={"displayModeBar": False},
               post_script="document.body.style.margin='0px';document.body.style.padding='0px';"
                           "document.body.style.overflow='hidden';")
